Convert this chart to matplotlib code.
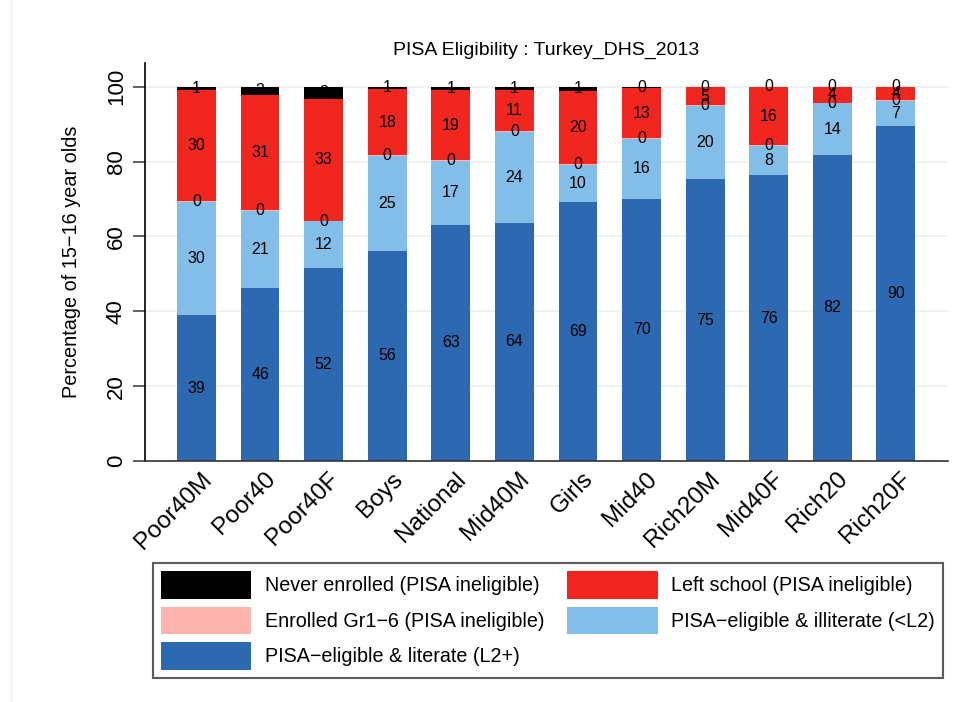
import matplotlib.pyplot as plt
from matplotlib.patches import Patch
from matplotlib.lines import Line2D
import matplotlib.transforms as mtransforms
import numpy as np

plt.rcParams['font.family'] = ['Liberation Sans', 'DejaVu Sans']

# groups and shares (% of 15-16 year olds)
groups = ["Poor40M", "Poor40", "Poor40F", "Boys", "National", "Mid40M",
          "Girls", "Mid40", "Rich20M", "Mid40F", "Rich20", "Rich20F"]
literate = [39.0, 46.3, 51.6, 56.1, 63.1, 63.6, 69.3, 70.0, 75.3, 76.3, 81.8, 89.6]
illiterate = [30.3, 20.6, 12.4, 25.4, 17.1, 24.3, 9.8, 16.1, 19.6, 7.9, 13.7, 6.6]
enrolled = [0.2, 0.2, 0.2, 0.2, 0.2, 0.2, 0.2, 0.2, 0.2, 0.2, 0.2, 0.1]
left_school = [29.5, 30.6, 32.6, 17.6, 18.6, 10.9, 19.5, 13.3, 4.7, 15.5, 4.2, 3.6]
never = [1.0, 2.3, 3.2, 0.7, 1.0, 1.0, 1.2, 0.4, 0.2, 0.1, 0.1, 0.1]

series = [literate, illiterate, enrolled, left_school, never]
names = ["PISA\u2212eligible & literate (L2+)", "PISA\u2212eligible & illiterate (<L2)",
         "Enrolled Gr1\u22126 (PISA ineligible)", "Left school (PISA ineligible)",
         "Never enrolled (PISA ineligible)"]
colors = ["#2c69b0", "#82bee8", "#ffb3ae", "#f0261f", "#000000"]

fig = plt.figure(figsize=(9.59, 7.02), dpi=100)
ax = fig.add_axes([0.1512, 0.3433, 0.8373, 0.5674])

x = np.arange(len(groups))
bottom = np.zeros(len(groups))
for vals, col in zip(series, colors):
    vals = np.array(vals)
    ax.bar(x, vals, 0.61, bottom=bottom, color=col, zorder=2)
    for xi, b, v in zip(x, bottom, vals):
        ax.text(xi, b + v / 2, f"{round(v):d}", ha='center', va='center',
                fontsize=11.5, color='black', zorder=3)
    bottom += vals

ax.set_xlim(-0.81, 11.82)
ax.set_ylim(0, 106.4)
ax.set_yticks([0, 20, 40, 60, 80, 100])
ax.set_yticklabels(["0", "20", "40", "60", "80", "100"], rotation=90,
                   va='center', fontsize=16)
ax.yaxis.grid(True, color='#eaf1f3', linewidth=1.2, zorder=0)
ax.set_axisbelow(True)
ax.tick_params(axis='y', length=9, width=1.2, color='#444444', pad=4)
ax.tick_params(axis='x', length=0, pad=5)
ax.set_xticks(x)
ax.set_xticklabels(groups, rotation=45, ha='right', rotation_mode='anchor',
                   fontsize=17.5)
shift = mtransforms.ScaledTranslation(4 / 100, 0, fig.dpi_scale_trans)
for lab in ax.get_xticklabels():
    lab.set_transform(lab.get_transform() + shift)
for s in ['top', 'right']:
    ax.spines[s].set_visible(False)
ax.spines['left'].set_linewidth(1.2)
ax.spines['bottom'].set_linewidth(1.2)
ax.spines['bottom'].set_color('#333333')
ax.set_ylabel("Percentage of 15\u221216 year olds", fontsize=14.3, labelpad=18)
ax.set_title("PISA Eligibility : Turkey_DHS_2013", fontsize=14, pad=6)

# legend, Stata-style row order
order = [4, 2, 0, 3, 1]
handles = [Patch(facecolor=colors[i], edgecolor='none') for i in order]
labels = [names[i] for i in order]
leg = fig.legend(handles, labels, ncol=2, loc='upper left',
                 bbox_to_anchor=(153 / 959, 1 - 563 / 702), fontsize=14.2,
                 frameon=True, fancybox=False, handlelength=4.57,
                 handleheight=1.75, handletextpad=0.7, columnspacing=1.15,
                 labelspacing=0.42, borderpad=0.42, borderaxespad=0)
leg.get_frame().set_edgecolor('#333333')
leg.get_frame().set_linewidth(1.5)

# faint outer graph-region line on the left
fig.add_artist(Line2D([11 / 959, 11 / 959], [0, 1], color='#e6eeee', linewidth=1))

fig.savefig("out.png", dpi=100)
